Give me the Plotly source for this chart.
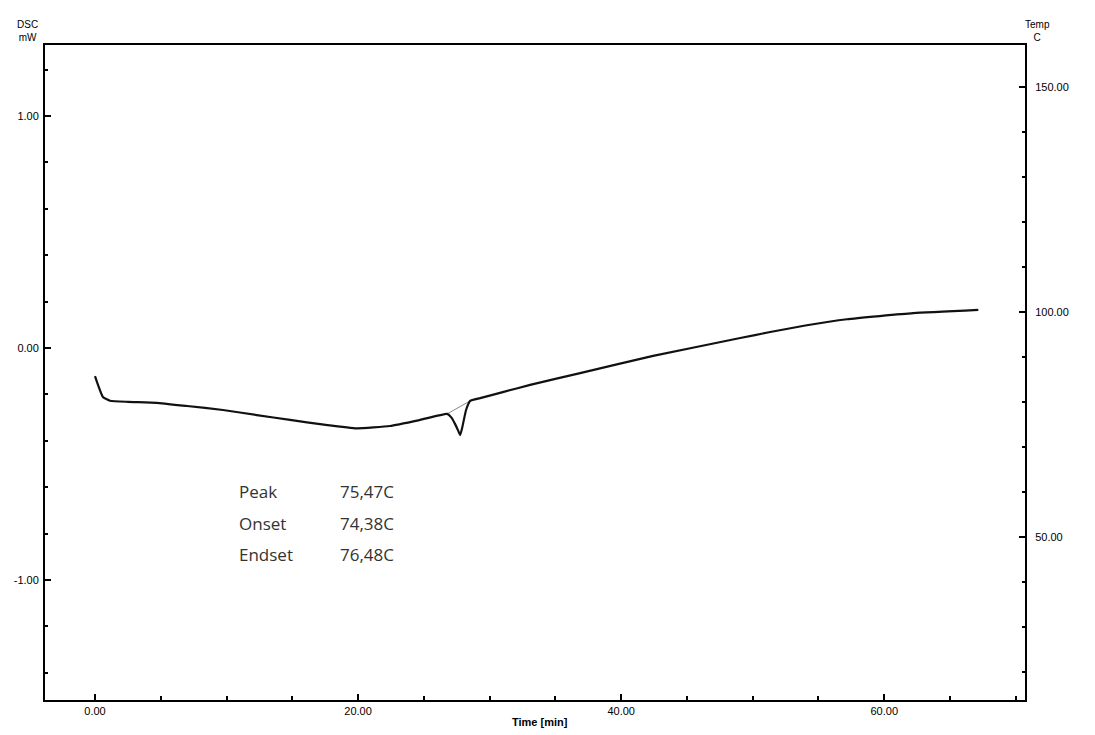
import plotly.graph_objects as go

# Data
time_min = [0.0, 0.23, 0.6, 1.14, 2.5, 4.69, 7.0, 9.73, 12.3, 14.83, 17.4, 19.9,
            22.43, 24.71, 26.77, 27.1, 27.38, 27.6, 27.76, 27.91, 28.21, 28.52,
            29.28, 31.0, 33.08, 36.88, 42.43, 49.05, 51.33, 54.0, 57.16, 62.2, 67.15]
dsc_mw = [-0.121, -0.159, -0.211, -0.227, -0.232, -0.236, -0.250, -0.267, -0.289,
          -0.310, -0.330, -0.346, -0.336, -0.310, -0.284, -0.300, -0.328, -0.355,
          -0.375, -0.345, -0.267, -0.228, -0.216, -0.190, -0.159, -0.108, -0.034,
          0.043, 0.069, 0.097, 0.124, 0.150, 0.164]

baseline_time = [26.77, 28.52]
baseline_dsc = [-0.284, -0.228]

x_ticks = [0, 20, 40, 60]
x_tick_labels = ["0.00", "20.00", "40.00", "60.00"]
y_ticks = [-1, 0, 1]
y_tick_labels = ["-1.00", "0.00", "1.00"]
temp_ticks = [50, 100, 150]
temp_tick_labels = ["50.00", "100.00", "150.00"]

result_names = ["Peak", "Onset", "Endset"]
result_values = ["75,47C", "74,38C", "76,48C"]

fig = go.Figure()
fig.add_trace(go.Scatter(x=baseline_time, y=baseline_dsc, mode="lines",
                         line=dict(color="#888888", width=1), showlegend=False))
fig.add_trace(go.Scatter(x=time_min, y=dsc_mw, mode="lines",
                         line=dict(color="#111111", width=2.2, shape="spline", smoothing=0.4),
                         showlegend=False))
# invisible trace to show the temperature axis
fig.add_trace(go.Scatter(x=[0], y=[100], yaxis="y2", mode="markers",
                         marker=dict(opacity=0), showlegend=False, hoverinfo="skip"))

tickfont = dict(family="Liberation Sans", size=11, color="#000000")

fig.update_layout(
    width=1095, height=735,
    margin=dict(l=45, r=70, t=45, b=35),
    paper_bgcolor="white", plot_bgcolor="white",
    xaxis=dict(range=[-3.8, 70.7], tickvals=x_ticks, ticktext=x_tick_labels,
               ticks="inside", ticklen=6, tickwidth=1.5, tickcolor="black",
               minor=dict(dtick=5, ticks="inside", ticklen=4, tickcolor="black"),
               showline=True, linecolor="black", linewidth=2, mirror=True,
               showgrid=False, zeroline=False, tickfont=tickfont),
    yaxis=dict(range=[-1.517, 1.306], tickvals=y_ticks, ticktext=y_tick_labels,
               ticks="inside", ticklen=6, tickwidth=1.5, tickcolor="black",
               minor=dict(dtick=0.2, ticks="inside", ticklen=3, tickcolor="black"),
               showline=True, linecolor="black", linewidth=2, mirror=True,
               showgrid=False, zeroline=False, tickfont=tickfont, ticklabelstandoff=2),
    yaxis2=dict(range=[13.8, 159.3], overlaying="y", side="right",
                tickvals=temp_ticks, ticktext=temp_tick_labels,
                ticks="inside", ticklen=6, tickwidth=1.5, tickcolor="black",
                minor=dict(dtick=10, ticks="inside", ticklen=3, tickcolor="black"),
                showline=True, linecolor="black", linewidth=2,
                showgrid=False, zeroline=False, tickfont=tickfont, ticklabelstandoff=6),
)

fig.add_annotation(text="DSC<br>mW", xref="paper", yref="paper", x=-0.018, y=1.0,
                   xanchor="center", yanchor="bottom", showarrow=False,
                   font=dict(family="Liberation Sans", size=10, color="black"))
fig.add_annotation(text="Temp<br>C", xref="paper", yref="paper", x=1.013, y=1.0,
                   xanchor="center", yanchor="bottom", showarrow=False,
                   font=dict(family="Liberation Sans", size=10, color="black"))
fig.add_annotation(text="<b>Time [min]</b>", xref="paper", yref="paper", x=0.505, y=-0.033,
                   xanchor="center", yanchor="middle", showarrow=False, borderpad=0,
                   font=dict(family="Liberation Sans", size=11, color="black"))

row_y = [-0.62, -0.755, -0.89]
for name, val, yy in zip(result_names, result_values, row_y):
    fig.add_annotation(text=name, x=10.8, y=yy, xanchor="left", yanchor="middle",
                       showarrow=False, font=dict(family="Open Sans", size=17, color="#333333"))
    fig.add_annotation(text=val, x=18.5, y=yy, xanchor="left", yanchor="middle",
                       showarrow=False, font=dict(family="Open Sans", size=17, color="#333333"))

fig.write_html("out.html", config={"displayModeBar": False},
               post_script="document.body.style.margin='0px';")
